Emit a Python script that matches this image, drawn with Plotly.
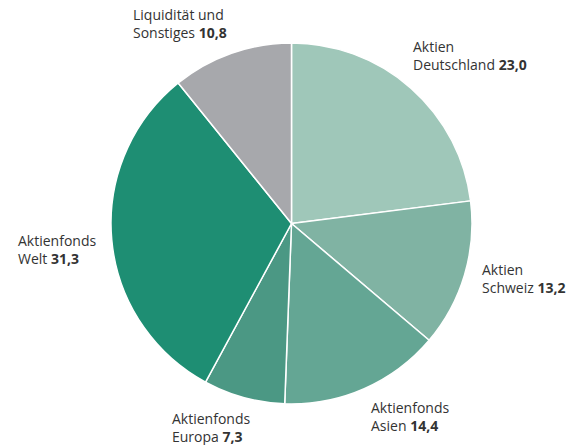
import plotly.graph_objects as go

categories = ["Aktien Deutschland", "Aktien Schweiz", "Aktienfonds Asien",
              "Aktienfonds Europa", "Aktienfonds Welt", "Liquidität und Sonstiges"]
values = [23.0, 13.2, 14.4, 7.3, 31.3, 10.8]
label_lines = [("Aktien", "Deutschland"), ("Aktien", "Schweiz"), ("Aktienfonds", "Asien"),
               ("Aktienfonds", "Europa"), ("Aktienfonds", "Welt"), ("Liquidität und", "Sonstiges")]
colors = ["#9fc7b9", "#80b3a3", "#64a694", "#4b9884", "#1e8e73", "#a7a8ac"]

OFF = 8  # page body margin in the browser
W, H = 583 - OFF, 445 - OFF
# label positions in screen pixels: (left x, centre y of first line)
label_pos = [(413, 48), (482, 270), (371, 408), (172, 419), (18, 241), (133, 15)]

def fx(px):
    return (px - OFF) / W

def fy(py):
    return 1 - (py - OFF) / H

fig = go.Figure(go.Pie(
    labels=categories, values=values, sort=False, direction="clockwise", rotation=0,
    marker=dict(colors=colors, line=dict(color="white", width=1.5)),
    textinfo="none", hoverinfo="label+value", showlegend=False,
    domain=dict(x=[fx(111), fx(472)], y=[fy(405), fy(42)]),
))

def fmt(v):
    return f"{v:.1f}".replace(".", ",")

for (l1, l2), v, (px, py) in zip(label_lines, values, label_pos):
    fig.add_annotation(
        x=fx(px - 2), y=fy(py - 12.5), xref="paper", yref="paper",
        xanchor="left", yanchor="top", align="left", showarrow=False,
        text=f"{l1}<br>{l2} <b>{fmt(v)}</b>",
        font=dict(family="Open Sans, sans-serif", size=14, color="#333333"),
    )

fig.update_layout(width=W, height=H, margin=dict(l=0, r=0, t=0, b=0),
                  paper_bgcolor="white", plot_bgcolor="white")
fig.write_html("out.html")
